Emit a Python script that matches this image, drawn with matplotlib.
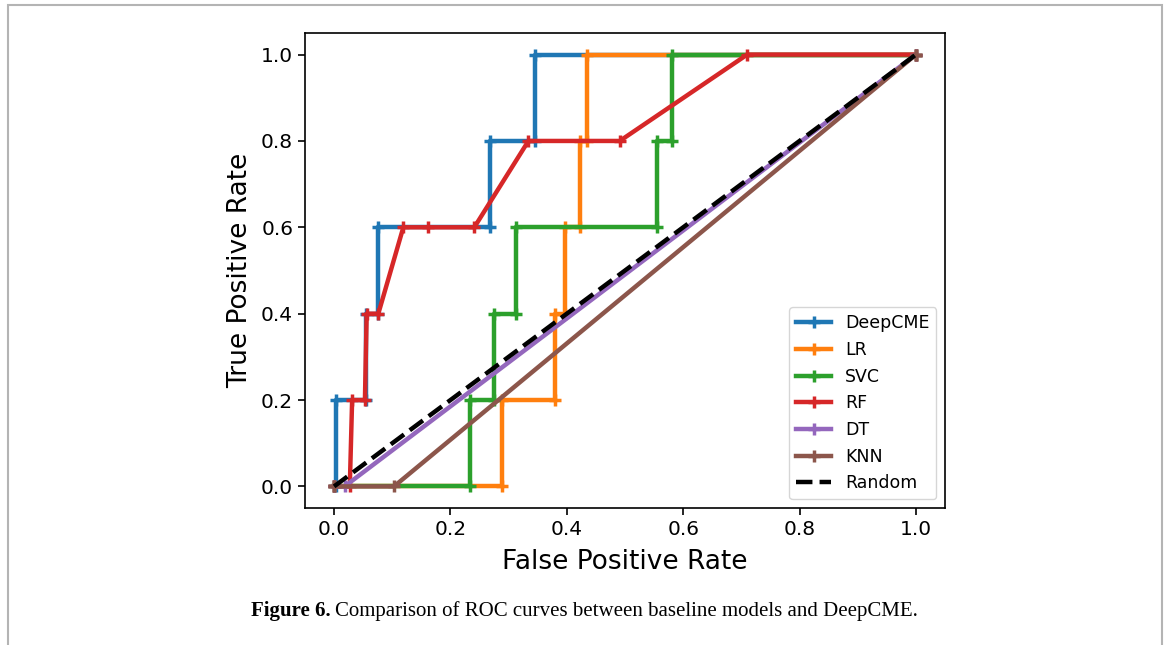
import matplotlib
matplotlib.use("Agg")
import matplotlib.pyplot as plt
from matplotlib.patches import Rectangle

# ---- data ----
deepcme_fpr = [0.0, 0.003, 0.003, 0.054, 0.054, 0.076, 0.076, 0.268, 0.268, 0.345, 0.345, 1.0]
deepcme_tpr = [0.0, 0.0, 0.2, 0.2, 0.4, 0.4, 0.6, 0.6, 0.8, 0.8, 1.0, 1.0]

lr_fpr = [0.0, 0.288, 0.288, 0.380, 0.380, 0.397, 0.397, 0.423, 0.423, 0.435, 0.435, 1.0]
lr_tpr = [0.0, 0.0, 0.2, 0.2, 0.4, 0.4, 0.6, 0.6, 0.8, 0.8, 1.0, 1.0]

svc_fpr = [0.0, 0.234, 0.234, 0.274, 0.274, 0.312, 0.312, 0.555, 0.555, 0.580, 0.580, 1.0]
svc_tpr = [0.0, 0.0, 0.2, 0.2, 0.4, 0.4, 0.6, 0.6, 0.8, 0.8, 1.0, 1.0]

rf_fpr = [0.0, 0.027, 0.031, 0.053, 0.056, 0.076, 0.119, 0.161, 0.241, 0.334, 0.491, 0.710, 1.0]
rf_tpr = [0.0, 0.0, 0.2, 0.2, 0.4, 0.4, 0.6, 0.6, 0.6, 0.8, 0.8, 1.0, 1.0]

dt_fpr = [0.0, 0.018, 1.0]
dt_tpr = [0.0, 0.0, 1.0]

knn_fpr = [0.0, 0.103, 1.0]
knn_tpr = [0.0, 0.0, 1.0]

random_x = [0.0, 1.0]
random_y = [0.0, 1.0]

labels = ["DeepCME", "LR", "SVC", "RF", "DT", "KNN"]
colors = ["#1f77b4", "#ff7f0e", "#2ca02c", "#d62728", "#9467bd", "#8c564b"]
ticks = [0.0, 0.2, 0.4, 0.6, 0.8, 1.0]

caption_bold = "Figure 6."
caption_text = "Comparison of ROC curves between baseline models and DeepCME."

W, H = 1167, 645
fig = plt.figure(figsize=(W / 100, H / 100), dpi=100)
fig.patch.set_facecolor("white")

# outer frame of the figure page (open at the bottom, as in the reference)
fig.patches.append(Rectangle((8 / W, -0.05), (1162 - 8) / W, 1.05 - 5 / H,
                             transform=fig.transFigure, fill=False,
                             edgecolor="#b4b4b4", linewidth=1.5, clip_on=False))

ax = fig.add_axes([305 / W, 1 - 508 / H, (945 - 305) / W, (508 - 33) / H])

series = [(deepcme_fpr, deepcme_tpr), (lr_fpr, lr_tpr), (svc_fpr, svc_tpr),
          (rf_fpr, rf_tpr), (dt_fpr, dt_tpr), (knn_fpr, knn_tpr)]
for (x, y), lab, c in zip(series, labels, colors):
    ax.plot(x, y, color=c, linewidth=3.2, marker="+", markersize=9,
            markeredgewidth=2.5, label=lab)
ax.plot(random_x, random_y, "k--", linewidth=3.2, label="Random")

ax.set_xlim(-0.05, 1.05)
ax.set_ylim(-0.05, 1.05)
ax.set_xticks(ticks)
ax.set_yticks(ticks)
ax.tick_params(labelsize=14.5, length=5, width=1.2)
for s in ax.spines.values():
    s.set_linewidth(1.2)
ax.set_xlabel("False Positive Rate", fontsize=19, labelpad=7)
ax.set_ylabel("True Positive Rate", fontsize=19, labelpad=6)
ax.legend(loc="lower right", fontsize=12.5)

t1 = fig.text(251 / W, 1 - 616 / H, caption_bold, fontsize=15, weight="bold",
              family="Liberation Serif", va="baseline", ha="left")
fig.canvas.draw()
bb = t1.get_window_extent()
fig.text((bb.x1 + 4) / W, 1 - 616 / H, caption_text,
         fontsize=15, family="Liberation Serif", va="baseline", ha="left")

fig.savefig("out.png", dpi=100)
